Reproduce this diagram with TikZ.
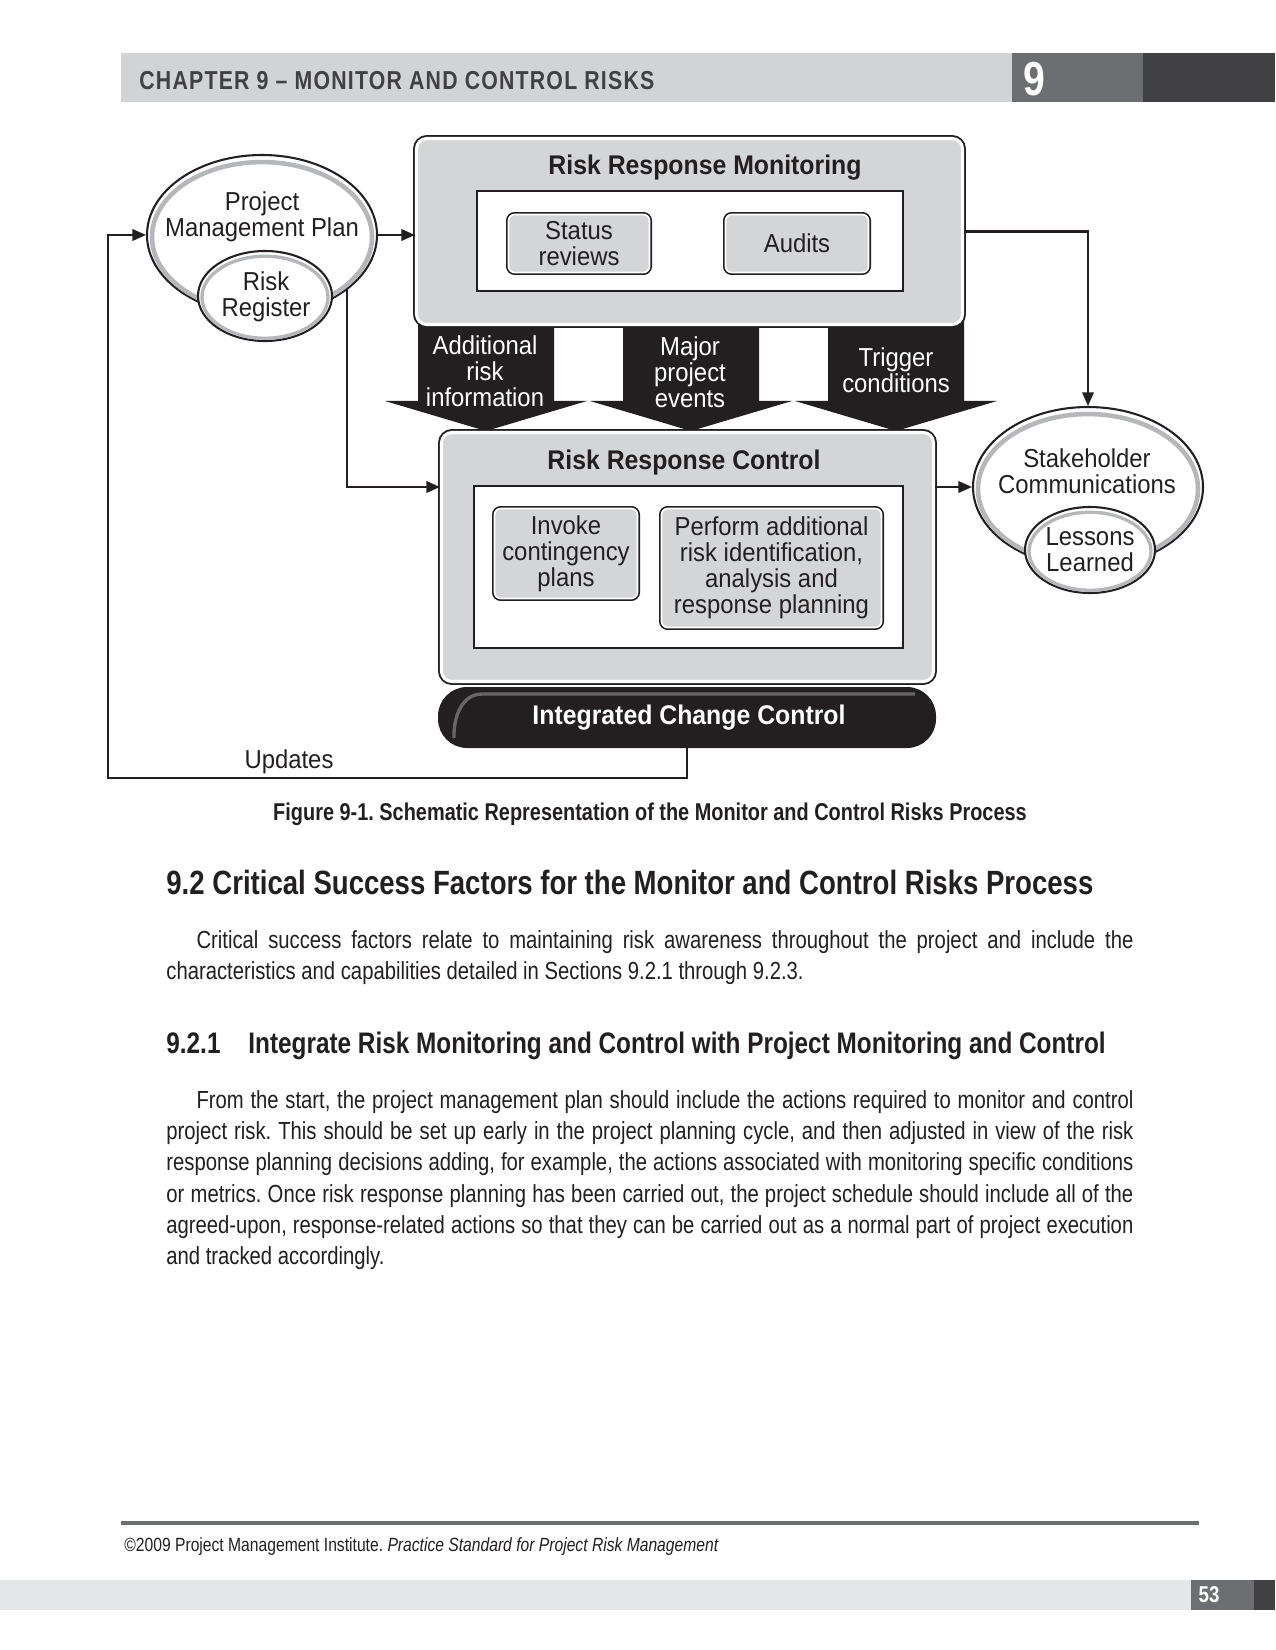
\documentclass[tikz,border=0pt]{standalone}
\usepackage{fontspec}
\setmainfont{Liberation Sans}
\newfontfamily\diagfont{Liberation Sans}[FakeStretch=0.92]
\newfontfamily\pagefont{Liberation Sans}[FakeStretch=0.82]
\newfontfamily\runfont{Liberation Sans}[FakeStretch=0.82,LetterSpace=4.7]
\usetikzlibrary{shapes.geometric,arrows.meta}
\definecolor{barlight}{HTML}{D1D3D4}
\definecolor{barmid}{HTML}{6D6E71}
\definecolor{bardark}{HTML}{414042}
\definecolor{panelgray}{HTML}{D4D5D7}
\definecolor{footbar}{HTML}{E6E7E8}
\definecolor{inkdark}{HTML}{231F20}
\definecolor{ringgray}{HTML}{B5B7BA}
\newcommand\pxu{0.4818pt}
\frenchspacing

\begin{document}
\begin{tikzpicture}[x=0.4818pt,y=-0.4818pt,
  panel/.style={rounded corners=5pt,fill=panelgray,draw=white,line width=1.5pt,
    preaction={draw=inkdark,line width=3.3pt},inner sep=0pt},
  tile/.style={rounded corners=3pt,fill=panelgray,draw=white,line width=0.8pt,
    preaction={draw=inkdark,line width=2.4pt},inner sep=0pt,align=center,
    text=inkdark,font=\diagfont\fontsize{12.5}{12.5}\selectfont},
  frame/.style={draw=inkdark,line width=1pt,fill=white,inner sep=0pt},
  blob/.style={ellipse,draw=inkdark,line width=1pt,fill=white,inner sep=0pt},
  lbl/.style={align=center,inner sep=0pt,text=inkdark,
    font=\diagfont\fontsize{12.5}{12.5}\selectfont},
  ttl/.style={inner sep=0pt,text=inkdark,font=\diagfont\bfseries\fontsize{13}{13}\selectfont},
  flow/.style={align=center,inner sep=0pt,text=white,
    font=\diagfont\fontsize{12.5}{12.5}\selectfont},
  conn/.style={draw=inkdark,line width=1pt,-{Triangle[length=6.5pt,width=5.5pt]}},
  para/.style={anchor=base west,inner sep=0pt,text width=967*\pxu,align=justify,
    text=inkdark,font=\pagefont\fontsize{11.9}{15.1}\selectfont\frenchspacing}]
\useasboundingbox (0,0) rectangle (1275,1650);
\fill[white] (0,0) rectangle (1275,1650);

% running head
\fill[barlight] (121,53) rectangle (1012,102);
\fill[barmid] (1012,53) rectangle (1143,102);
\fill[bardark] (1143,53) rectangle (1275,102);
\node[anchor=base west,inner sep=0pt,text=bardark,
  font=\runfont\bfseries\fontsize{12.5}{13}\selectfont] (runhead) at (139,90)
  {CHAPTER 9 – MONITOR AND CONTROL RISKS};
\node[anchor=base,inner sep=0pt,text=white,
  font=\pagefont\bfseries\fontsize{23}{23}\selectfont] (chapno) at (1034,96) {9};

% flow arrows between the two panels
\foreach \cx in {486,691,896}
  \fill[inkdark] (\cx-68,320) -- (\cx+68,320) -- (\cx+68,401) -- (\cx+101,401)
    -- (\cx,431) -- (\cx-101,401) -- (\cx-68,401) -- cycle;

% monitoring panel
\node[panel,minimum width=546*\pxu,minimum height=186*\pxu] (rrm) at (689.5,231.5) {};
\node[ttl] (rrmtitle) at (705,168) {Risk Response Monitoring};
\node[frame,minimum width=426*\pxu,minimum height=100*\pxu] (rrmframe) at (690,241) {};
\node[tile,minimum width=141*\pxu,minimum height=58*\pxu] (status) at (579,243.5) {Status\\reviews};
\node[tile,minimum width=143*\pxu,minimum height=58*\pxu] (audits) at (797,243.5) {Audits};

% control panel
\node[panel,minimum width=492*\pxu,minimum height=249*\pxu] (rrc) at (687.5,557) {};
\node[ttl] (rrctitle) at (684,463) {Risk Response Control};
\node[frame,minimum width=429*\pxu,minimum height=162*\pxu] (rrcframe) at (688.5,567) {};
\node[tile,minimum width=143*\pxu,minimum height=90*\pxu] (invoke) at (566,553.5)
  {Invoke\\contingency\\plans};
\node[tile,minimum width=220*\pxu,minimum height=119*\pxu] (perform) at (771.5,568)
  {Perform additional\\risk identification,\\analysis and\\response planning};

% arrow texts
\node[flow] (addinfo) at (485,371) {Additional\\risk\\information};
\node[flow] (majorev) at (690,372) {Major\\project\\events};
\node[flow] (trigger) at (896,370) {Trigger\\conditions};

% change control bar
\node[rounded corners=14pt,fill=inkdark,inner sep=0pt,minimum width=498*\pxu,
  minimum height=61*\pxu] (icc) at (687,717.5) {};
\draw[black!60,line width=1.6pt] (454,738) to[out=92,in=180] (482,694) -- (915,694);
\node[inner sep=0pt,text=white,font=\diagfont\bfseries\fontsize{13}{13}\selectfont]
  (icctitle) at (689,718) {Integrated Change Control};

% plan and register
\node[blob,minimum width=230*\pxu,minimum height=160*\pxu] (pmp) at (262,235) {};
\draw[ringgray,line width=2.2pt] ([yshift=-1pt]pmp.center) ellipse [x radius=110, y radius=75];
\node[blob,minimum width=134*\pxu,minimum height=90*\pxu] (riskreg) at (265,296) {};
\draw[ringgray,line width=1.6pt] ([yshift=-0.6pt]riskreg.center) ellipse [x radius=63, y radius=41];
\node[lbl] (pmptxt) at (262,217) {Project\\Management Plan};
\node[lbl] (riskregtxt) at (266,297) {Risk\\Register};

% stakeholder communications
\node[blob,minimum width=230*\pxu,minimum height=160*\pxu] (scom) at (1088,487) {};
\draw[ringgray,line width=2.2pt] ([yshift=-1pt]scom.center) ellipse [x radius=110, y radius=75];
\node[blob,minimum width=130*\pxu,minimum height=86*\pxu] (lessons) at (1090,550) {};
\draw[ringgray,line width=1.6pt] ([yshift=-0.6pt]lessons.center) ellipse [x radius=61, y radius=39];
\node[lbl] (scomtxt) at (1087,471) {Stakeholder\\Communications};
\node[lbl] (lessonstxt) at (1090,550) {Lessons\\Learned};

% connectors
\coordinate (updcorner) at (108,778);
\draw[conn] (icc.south) |- (updcorner) |- (pmp.west);
\node[lbl] (updates) at (289,762) {Updates};
\draw[conn] (pmp.east) -- (pmp.east -| rrm.west);
\draw[conn] (pmp.-33) |- (rrc.west |- scom.center);
\draw[conn] (rrm.east) -| (scom.north);
\draw[conn] (rrc.east |- scom.center) -- (scom.west);

% caption and text
\node[anchor=base,inner sep=0pt,text=inkdark,
  font=\pagefont\bfseries\fontsize{11.7}{13}\selectfont] (caption) at (650,820)
  {Figure 9-1. Schematic Representation of the Monitor and Control Risks Process};
\node[anchor=base west,inner sep=0pt,text=inkdark,
  font=\pagefont\bfseries\fontsize{16.2}{18}\selectfont] (sechead) at (166,894)
  {9.2 Critical Success Factors for the Monitor and Control Risks Process};
\node[para] (critpara) at (166,948)
  {\hspace*{14.5pt}Critical success factors relate to maintaining risk awareness throughout the project and include the\linebreak
  characteristics and capabilities detailed in Sections 9.2.1 through 9.2.3.};
\node[anchor=base west,inner sep=0pt,text=inkdark,
  font=\pagefont\bfseries\fontsize{14.3}{16}\selectfont] (subnum) at (166,1053) {9.2.1};
\node[anchor=base west,inner sep=0pt,text=inkdark,
  font=\pagefont\bfseries\fontsize{14.3}{16}\selectfont] (subhead) at (248,1053)
  {Integrate Risk Monitoring and Control with Project Monitoring and Control};
\node[para] (intpara) at (166,1108)
  {\hspace*{14.5pt}From the start, the project management plan should include the actions required to monitor and control\linebreak
  project risk. This should be set up early in the project planning cycle, and then adjusted in view of the risk\linebreak
  response planning decisions adding, for example, the actions associated with monitoring specific conditions\linebreak
  or metrics. Once risk response planning has been carried out, the project schedule should include all of the\linebreak
  agreed-upon, response-related actions so that they can be carried out as a normal part of project execution\linebreak
  and tracked accordingly.};

% footer
\draw[barmid,line width=2pt] (121,1523) -- (1199,1523);
\node[anchor=base west,inner sep=0pt,text=inkdark,
  font=\pagefont\fontsize{9.2}{11}\selectfont] (credit) at (124,1551)
  {©2009 Project Management Institute. \textit{Practice Standard for Project Risk Management}};
\fill[footbar] (0,1580) rectangle (1191,1610);
\fill[barmid] (1191,1580) rectangle (1254,1610);
\fill[bardark] (1254,1580) rectangle (1275,1610);
\node[anchor=base,inner sep=0pt,text=white,
  font=\pagefont\bfseries\fontsize{11}{12}\selectfont] (pageno) at (1209,1602) {53};
\end{tikzpicture}
\end{document}
